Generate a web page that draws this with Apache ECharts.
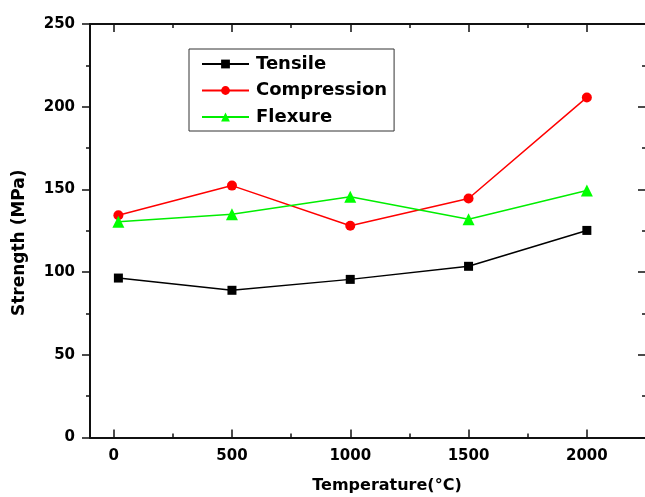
<!DOCTYPE html>
<html>
<head>
<meta charset="utf-8">
<script src="https://cdn.jsdelivr.net/npm/echarts@6/dist/echarts.min.js"></script>
<style>
    html, body { margin: 0; padding: 0; background: #fff; }
    #myChart { width: 645px; height: 497px; }
</style>
</head>
<body>
<div id="myChart"></div>
<script>
// data
var temperature = [20, 500, 1000, 1500, 2000];
var tensile = [96.4, 89, 95.6, 103.5, 125.2];
var compression = [134.4, 152.3, 128, 144.5, 205.6];
var flexure = [130.4, 135, 145.5, 132, 149.3];
var xMajorTicks = [0, 500, 1000, 1500, 2000];
var xMinorTicks = [250, 750, 1250, 1750];

function pairs(xs, ys) {
    var out = [];
    for (var i = 0; i < xs.length; i++) {
        out.push([xs[i], ys[i]]);
    }
    return out;
}

var font = '"DejaVu Sans", sans-serif';
var axisColor = '#111';

// shared x range for all x axes
function xAxisBase(pos) {
    return {
        type: 'value',
        position: pos,
        min: -100,
        max: 2250,
        splitLine: { show: false },
        axisLine: { show: false, onZero: false },
        axisLabel: { show: false },
        axisTick: { show: false }
    };
}

var xAxes = [];
// bottom main
var xb = xAxisBase('bottom');
xb.axisLine = { show: true, onZero: false, lineStyle: { color: axisColor, width: 2 } };
xb.axisTick = { show: true, inside: true, length: 8, customValues: xMajorTicks, lineStyle: { color: axisColor, width: 1.5 } };
xb.axisLabel = {
    show: true, customValues: xMajorTicks, margin: 11, color: '#000',
    fontFamily: font, fontWeight: 'bold', fontSize: 15,
    formatter: function (v) { return String(v); }
};
xb.name = 'Temperature(°C)';
xb.nameLocation = 'middle';
xb.nameGap = 40;
xb.nameTextStyle = { color: '#000', fontFamily: font, fontWeight: 'bold', fontSize: 16, padding: [0, 0, 0, 38] };
xAxes.push(xb);
// bottom minor
var xbm = xAxisBase('bottom');
xbm.axisTick = { show: true, inside: true, length: 4, customValues: xMinorTicks, lineStyle: { color: axisColor, width: 1.5 } };
xAxes.push(xbm);
// top main
var xt = xAxisBase('top');
xt.axisLine = { show: true, onZero: false, lineStyle: { color: axisColor, width: 2 } };
xt.axisTick = { show: true, inside: true, length: 8, customValues: xMajorTicks, lineStyle: { color: axisColor, width: 1.5 } };
xAxes.push(xt);
// top minor
var xtm = xAxisBase('top');
xtm.axisTick = { show: true, inside: true, length: 4, customValues: xMinorTicks, lineStyle: { color: axisColor, width: 1.5 } };
xAxes.push(xtm);

var yAxes = [
    {
        type: 'value',
        position: 'left',
        min: 0,
        max: 250,
        interval: 50,
        splitLine: { show: false },
        axisLine: { show: true, onZero: false, lineStyle: { color: axisColor, width: 2 } },
        axisTick: { show: true, inside: false, length: 8, lineStyle: { color: axisColor, width: 1.5 } },
        minorTick: { show: true, splitNumber: 2, length: 4, lineStyle: { color: axisColor, width: 1.5 } },
        axisLabel: { margin: 15, color: '#000', fontFamily: font, fontWeight: 'bold', fontSize: 15 },
        name: 'Strength (MPa)',
        nameLocation: 'middle',
        nameGap: 62,
        nameTextStyle: { color: '#000', fontFamily: font, fontWeight: 'bold', fontSize: 17, padding: [0, 24, 0, 0] }
    },
    {
        type: 'value',
        position: 'right',
        min: 0,
        max: 250,
        interval: 50,
        splitLine: { show: false },
        axisLine: { show: false, onZero: false },
        axisTick: { show: true, inside: true, length: 8, lineStyle: { color: axisColor, width: 1.5 } },
        minorTick: { show: true, splitNumber: 2, length: 4, lineStyle: { color: axisColor, width: 1.5 } },
        axisLabel: { show: false }
    }
];

var option = {
    backgroundColor: '#fff',
    animation: false,
    grid: { left: 90, right: -1, top: 24, bottom: 59.5, outerBoundsMode: 'none' },
    legend: {
        orient: 'vertical',
        left: 189,
        top: 49,
        padding: [5, 7, 4, 12],
        itemGap: 6.5,
        itemWidth: 47,
        itemHeight: 11,
        borderColor: '#333',
        borderWidth: 1,
        textStyle: { color: '#000', fontFamily: font, fontWeight: 'bold', fontSize: 18, lineHeight: 20, padding: [0, 0, 0, 2] },
        data: ['Tensile', 'Compression', 'Flexure']
    },
    xAxis: xAxes,
    yAxis: yAxes,
    series: [
        {
            name: 'Tensile',
            type: 'line',
            symbol: 'rect',
            symbolSize: 9,
            color: '#000',
            lineStyle: { color: '#000', width: 1.5 },
            itemStyle: { color: '#000' },
            data: pairs(temperature, tensile)
        },
        {
            name: 'Compression',
            type: 'line',
            symbol: 'circle',
            symbolSize: 10,
            color: '#ff0000',
            lineStyle: { color: '#ff0000', width: 1.5 },
            itemStyle: { color: '#ff0000' },
            data: pairs(temperature, compression)
        },
        {
            name: 'Flexure',
            type: 'line',
            symbol: 'triangle',
            symbolSize: 12,
            color: '#00ff00',
            lineStyle: { color: '#00ee00', width: 1.5 },
            itemStyle: { color: '#00ff00' },
            data: pairs(temperature, flexure)
        }
    ]
};

var myChart = echarts.init(document.getElementById('myChart'));
myChart.setOption(option);
</script>
</body>
</html>
